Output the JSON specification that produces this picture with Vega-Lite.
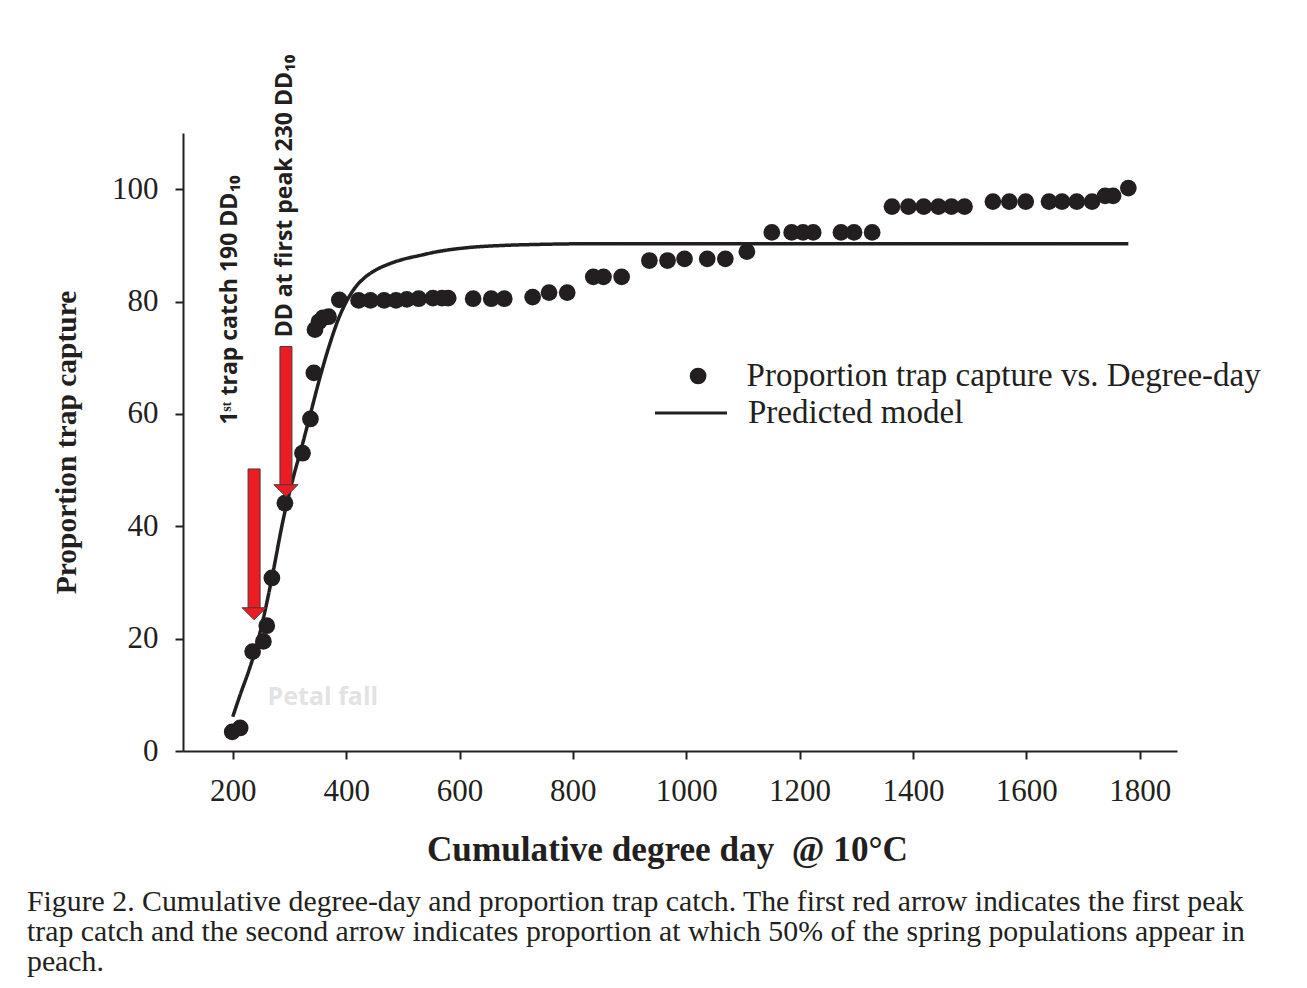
{
  "$schema": "https://vega.github.io/schema/vega-lite/v6.json",
  "autosize": {"type": "none"},
  "padding": {"left": 183, "top": 133, "right": 130, "bottom": 237},
  "width": 994,
  "height": 618,
  "background": "white",
  "title": {
    "text": [
      "Figure 2. Cumulative degree-day and proportion trap catch. The first red arrow indicates the first peak",
      "trap catch and the second arrow indicates proportion at which 50% of the spring populations appear in",
      "peach."
    ],
    "orient": "bottom",
    "anchor": "start",
    "frame": "group",
    "dx": -156,
    "offset": 20,
    "font": "Liberation Serif",
    "fontSize": 29.8,
    "fontWeight": "normal",
    "color": "#231f20",
    "lineHeight": 30
  },
  "datasets": {
    "points": [
      {"dd": 199, "p": 3.4}, {"dd": 213, "p": 4.1}, {"dd": 235, "p": 17.7}, {"dd": 254, "p": 19.5},
      {"dd": 260, "p": 22.3}, {"dd": 269, "p": 30.8}, {"dd": 292, "p": 44.1}, {"dd": 323, "p": 53.0},
      {"dd": 337, "p": 59.1}, {"dd": 343, "p": 67.3}, {"dd": 345, "p": 75.0}, {"dd": 352, "p": 76.4},
      {"dd": 359, "p": 77.1}, {"dd": 369, "p": 77.3}, {"dd": 388, "p": 80.3}, {"dd": 422, "p": 80.2},
      {"dd": 443, "p": 80.2}, {"dd": 467, "p": 80.2}, {"dd": 488, "p": 80.2}, {"dd": 507, "p": 80.4},
      {"dd": 528, "p": 80.5}, {"dd": 553, "p": 80.6}, {"dd": 569, "p": 80.6}, {"dd": 580, "p": 80.6},
      {"dd": 624, "p": 80.5}, {"dd": 656, "p": 80.5}, {"dd": 679, "p": 80.5}, {"dd": 729, "p": 80.8},
      {"dd": 758, "p": 81.6}, {"dd": 790, "p": 81.6}, {"dd": 836, "p": 84.4}, {"dd": 854, "p": 84.4},
      {"dd": 886, "p": 84.4}, {"dd": 935, "p": 87.3}, {"dd": 967, "p": 87.3}, {"dd": 997, "p": 87.6},
      {"dd": 1037, "p": 87.6}, {"dd": 1069, "p": 87.6}, {"dd": 1107, "p": 88.9}, {"dd": 1151, "p": 92.3},
      {"dd": 1186, "p": 92.3}, {"dd": 1206, "p": 92.3}, {"dd": 1224, "p": 92.3}, {"dd": 1273, "p": 92.3},
      {"dd": 1296, "p": 92.3}, {"dd": 1328, "p": 92.3}, {"dd": 1363, "p": 96.9}, {"dd": 1392, "p": 96.9},
      {"dd": 1419, "p": 96.9}, {"dd": 1445, "p": 96.9}, {"dd": 1468, "p": 96.9}, {"dd": 1491, "p": 96.9},
      {"dd": 1541, "p": 97.8}, {"dd": 1570, "p": 97.8}, {"dd": 1599, "p": 97.8}, {"dd": 1640, "p": 97.8},
      {"dd": 1663, "p": 97.8}, {"dd": 1689, "p": 97.8}, {"dd": 1716, "p": 97.8}, {"dd": 1739, "p": 98.8},
      {"dd": 1753, "p": 98.8}, {"dd": 1780, "p": 100.2}
    ],
    "curve": [
      {"dd": 200, "p": 6.1}, {"dd": 213, "p": 10.0}, {"dd": 228, "p": 14.2}, {"dd": 240, "p": 18.0},
      {"dd": 250, "p": 21.9}, {"dd": 260, "p": 26.4}, {"dd": 270, "p": 31.3}, {"dd": 289, "p": 41.2},
      {"dd": 306, "p": 48.4}, {"dd": 324, "p": 55.0}, {"dd": 338, "p": 60.4}, {"dd": 353, "p": 66.2},
      {"dd": 371, "p": 72.4}, {"dd": 388, "p": 77.3}, {"dd": 400, "p": 79.9}, {"dd": 416, "p": 82.5},
      {"dd": 432, "p": 84.2}, {"dd": 452, "p": 85.6}, {"dd": 476, "p": 86.7}, {"dd": 500, "p": 87.5},
      {"dd": 530, "p": 88.2}, {"dd": 557, "p": 88.8}, {"dd": 615, "p": 89.6}, {"dd": 680, "p": 90.0},
      {"dd": 731, "p": 90.15}, {"dd": 850, "p": 90.3}, {"dd": 1200, "p": 90.3}, {"dd": 1500, "p": 90.3},
      {"dd": 1780, "p": 90.3}
    ],
    "arrows": [
      {"dd": 237.6, "top": 50.2, "base": 25.5},
      {"dd": 293.8, "top": 72.0, "base": 47.4}
    ],
    "notes": [
      {"label": "1ˢᵗ trap catch 190 DD₁₀", "dd": 195, "p": 80.3},
      {"label": "DD at first peak 230 DD₁₀", "dd": 293, "p": 98.8}
    ],
    "stage": [
      {"label": "Petal fall", "dd": 359, "p": 9.6}
    ]
  },
  "layer": [
    {
      "data": {"name": "curve"},
      "mark": {"type": "line", "strokeWidth": 3.5, "interpolate": "monotone", "color": "#231f20"},
      "encoding": {
        "x": {"field": "dd", "type": "quantitative"},
        "y": {"field": "p", "type": "quantitative"},
        "strokeDash": {
          "datum": "Predicted model",
          "scale": {"domain": ["Predicted model"], "range": [[1, 0]]},
          "legend": {
            "orient": "none",
            "legendX": 470.5,
            "legendY": 242.5,
            "title": null,
            "padding": 0,
            "labelFont": "Liberation Serif",
            "labelFontSize": 33,
            "labelColor": "#231f20",
            "labelLimit": 0,
            "symbolType": "stroke",
            "symbolSize": 5184,
            "symbolStrokeWidth": 3,
            "symbolStrokeColor": "#231f20",
            "labelOffset": 19.5
          }
        }
      }
    },
    {
      "data": {"name": "points"},
      "mark": {"type": "point", "filled": true, "size": 280, "opacity": 1, "color": "#231f20"},
      "encoding": {
        "x": {
          "field": "dd", "type": "quantitative",
          "scale": {"domain": [121, 1857], "nice": false, "zero": false},
          "axis": {
            "title": "Cumulative degree day\u00a0 @ 10°C",
            "values": [200, 400, 600, 800, 1000, 1200, 1400, 1600, 1800],
            "format": "d",
            "titleX": 484,
            "titleFontSize": 35.2,
            "titlePadding": 26
          }
        },
        "y": {
          "field": "p", "type": "quantitative",
          "scale": {"domain": [0, 110], "nice": false},
          "axis": {
            "title": "Proportion trap capture",
            "values": [0, 20, 40, 60, 80, 100],
            "titleFontSize": 29.5,
            "titlePadding": 30
          }
        },
        "shape": {
          "datum": "Proportion trap capture vs. Degree-day",
          "scale": {"domain": ["Proportion trap capture vs. Degree-day"], "range": ["circle"]},
          "legend": {
            "orient": "none",
            "legendX": 498.6,
            "legendY": 226.5,
            "title": null,
            "padding": 0,
            "labelFont": "Liberation Serif",
            "labelFontSize": 33,
            "labelColor": "#231f20",
            "labelLimit": 0,
            "symbolSize": 280,
            "symbolFillColor": "#231f20",
            "symbolStrokeWidth": 0,
            "labelOffset": 32
          }
        }
      }
    },
    {
      "data": {"name": "arrows"},
      "mark": {"type": "bar", "width": 12, "fill": "#ed1c24", "stroke": "#4a3a3a", "strokeWidth": 1},
      "encoding": {
        "x": {"field": "dd", "type": "quantitative"},
        "y": {"field": "top", "type": "quantitative"},
        "y2": {"field": "base"}
      }
    },
    {
      "data": {"name": "arrows"},
      "mark": {"type": "point", "filled": true, "shape": "M-1,0L1,0L0,1Z", "size": 576, "fill": "#ed1c24", "stroke": "#4a3a3a", "strokeWidth": 1, "opacity": 1},
      "encoding": {
        "x": {"field": "dd", "type": "quantitative"},
        "y": {"field": "base", "type": "quantitative"}
      }
    },
    {
      "data": {"name": "notes"},
      "mark": {"type": "text", "angle": 270, "font": "Open Sans", "fontWeight": "bold", "fontSize": 23, "align": "center", "baseline": "middle", "color": "#231f20"},
      "encoding": {
        "x": {"field": "dd", "type": "quantitative"},
        "y": {"field": "p", "type": "quantitative"},
        "text": {"field": "label"}
      }
    },
    {
      "data": {"name": "stage"},
      "mark": {"type": "text", "font": "Open Sans", "fontWeight": "bold", "fontSize": 25, "align": "center", "baseline": "middle", "color": "#e3e3e3"},
      "encoding": {
        "x": {"field": "dd", "type": "quantitative"},
        "y": {"field": "p", "type": "quantitative"},
        "text": {"field": "label"}
      }
    }
  ],
  "config": {
    "view": {"stroke": null},
    "axis": {
      "grid": false,
      "domainColor": "#231f20",
      "domainWidth": 2,
      "tickColor": "#231f20",
      "tickWidth": 2,
      "tickSize": 8,
      "labelFont": "Liberation Serif",
      "labelFontSize": 31,
      "labelColor": "#231f20",
      "titleFont": "Liberation Serif",
      "titleFontWeight": "bold",
      "titleColor": "#231f20"
    },
    "axisX": {"labelPadding": 17},
    "axisY": {"labelPadding": 17}
  }
}
